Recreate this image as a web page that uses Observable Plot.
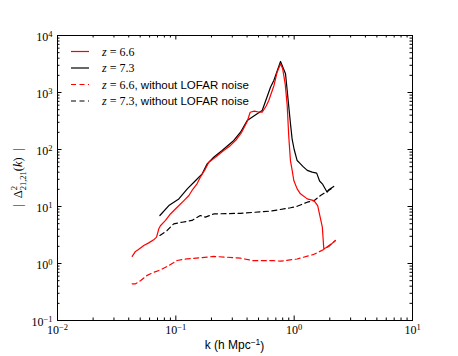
<!DOCTYPE html>
<html><head><meta charset="utf-8">
<script src="https://cdn.jsdelivr.net/npm/d3@7"></script>
<script src="https://cdn.jsdelivr.net/npm/@observablehq/plot@0.6"></script>
<style>body{margin:0;background:#fff} #chart{width:458px;height:356px}</style>
</head><body><div id="chart"></div>
<script>
// z = 6.6 with LOFAR noise
const k66 = [0.0428,0.0456,0.048,0.0536,0.059,0.065,0.0687,0.0718,0.0741,0.0818,0.090,0.1026,0.117,0.129,0.137,0.151,0.161,0.178,0.19,0.216,0.254,0.29,0.321,0.36,0.401,0.425,0.46,0.50,0.537,0.58,0.61,0.673,0.718,0.767,0.80,0.84,0.873,0.90,0.93,0.962,0.993,1.06,1.13,1.29,1.47,1.58,1.73,1.78,1.96,2.23];
const d66 = [1.33,1.63,1.74,2.07,2.3,2.6,2.9,4.07,4.6,5.7,7.4,9.7,12.7,15.6,19.1,25,32.7,45.8,60,73,96,118,145,200,310,450,470,455,451,580,725,1300,2270,3200,2600,1400,600,170,64,43,28.6,20.4,16.7,13.6,12.7,10.4,4.34,1.81,1.99,2.54];
// z = 7.3 with LOFAR noise
const k73 = [0.0733,0.0873,0.106,0.125,0.147,0.167,0.184,0.209,0.246,0.309,0.352,0.401,0.487,0.537,0.631,0.673,0.767,0.845,0.873,0.931,0.962,1.0,1.06,1.13,1.19,1.29,1.42,1.55,1.64,1.73,1.90,1.96,2.16];
const d73 = [6.95,10.4,13.6,20.4,28.6,37.4,56,73,96,144,201,323,423,483,1240,1620,3500,2130,1085,282,150,100,64,56,50,43,40,38.5,28,25,17.8,19.6,22.5];
// z = 6.6 without LOFAR noise
const k66n = [0.0428,0.0456,0.0502,0.0573,0.065,0.074,0.0873,0.1026,0.125,0.161,0.209,0.27,0.352,0.45,0.673,0.767,1.06,1.47,1.78,2.23];
const d66n = [0.44,0.44,0.50,0.62,0.70,0.77,0.92,1.13,1.21,1.26,1.33,1.29,1.24,1.12,1.12,1.10,1.2,1.45,1.76,2.5];
// z = 7.3 without LOFAR noise
const k73n = [0.0733,0.0845,0.096,0.113,0.137,0.161,0.178,0.209,0.352,0.631,0.931,1.06,1.29,1.47,1.67,2.16];
const d73n = [3.1,3.8,4.97,5.3,5.7,6.95,6.5,7.4,7.6,8.3,9.5,10.1,11.9,12.6,15.6,21.8];

const xMajor = [0.01,0.1,1,10];
const yMajor = [0.1,1,10,100,1000,10000];
const minorMult = [2,3,4,5,6,7,8,9];
const xMinor = xMajor.slice(0,-1).flatMap(p => minorMult.map(m => m*p));
const yMinor = yMajor.slice(0,-1).flatMap(p => minorMult.map(m => m*p));

const legendLabels = ["6.6","7.3","6.6","7.3"];
const legendSuffix = ["","",", without LOFAR noise",", without LOFAR noise"];
const legendColors = ["#ff0000","#000000","#ff0000","#000000"];
const legendDash = [null,null,"5,3.5","5,3.5"];

const W=458,H=356,mL=57,mR=46,mT=35,mB=36;
const iw=W-mL-mR, ih=H-mT-mB;
const series=(ks,vs)=>ks.map((k,i)=>({k,v:vs[i]}));
const fmt = d => "10^" + String(Math.round(Math.log10(d))).replace("-","\u2212");

const chart = Plot.plot({
  width:W, height:H, marginLeft:mL, marginRight:mR, marginTop:mT, marginBottom:mB,
  style:{fontFamily:"'Liberation Serif', serif", fontSize:"12px", background:"white", color:"black"},
  x:{type:"log", domain:[0.01,10], label:null},
  y:{type:"log", domain:[0.1,1e4], label:null},
  marks:[
    Plot.line(series(k73n,d73n),{x:"k",y:"v",stroke:"#000",strokeWidth:1.2,strokeDasharray:"5,3.5"}),
    Plot.line(series(k66n,d66n),{x:"k",y:"v",stroke:"#ff0000",strokeWidth:1.2,strokeDasharray:"5,3.5"}),
    Plot.line(series(k73,d73),{x:"k",y:"v",stroke:"#000",strokeWidth:1.2}),
    Plot.line(series(k66,d66),{x:"k",y:"v",stroke:"#ff0000",strokeWidth:1.2}),
    Plot.tickX(xMajor,{x:d=>d,insetTop:ih-4.5,stroke:"#000"}),
    Plot.tickX(xMajor,{x:d=>d,insetBottom:ih-4.5,stroke:"#000"}),
    Plot.tickX(xMinor,{x:d=>d,insetTop:ih-2.5,stroke:"#000"}),
    Plot.tickX(xMinor,{x:d=>d,insetBottom:ih-2.5,stroke:"#000"}),
    Plot.tickY(yMajor,{y:d=>d,insetRight:iw-4.5,stroke:"#000"}),
    Plot.tickY(yMajor,{y:d=>d,insetLeft:iw-4.5,stroke:"#000"}),
    Plot.tickY(yMinor,{y:d=>d,insetRight:iw-2.5,stroke:"#000"}),
    Plot.tickY(yMinor,{y:d=>d,insetLeft:iw-2.5,stroke:"#000"}),
    Plot.frame({stroke:"#000",strokeWidth:1}),
    Plot.axisX(xMajor,{tickSize:0,tickPadding:5,tickFormat:fmt,label:null,fontSize:12}),
    Plot.axisY(yMajor,{tickSize:0,tickPadding:5,tickFormat:fmt,label:null,fontSize:12})
  ]
});
document.getElementById("chart").appendChild(chart);
const svg = d3.select(chart);

// superscripts in tick labels
svg.selectAll('g[aria-label="x-axis tick label"] text, g[aria-label="y-axis tick label"] text').each(function(){
  const s = this.textContent;
  if (!s.includes("^")) return;
  const [base, ex] = s.split("^");
  this.textContent = "";
  const t = d3.select(this);
  t.append("tspan").text(base);
  t.append("tspan").attr("dy","-0.42em").attr("font-size","8.5px").text(ex);
});
svg.selectAll('g[aria-label="y-axis tick label"] text').attr("dy","0.1em");

// legend
const lg = svg.append("g").attr("class","legend").attr("text-anchor","start");
legendLabels.forEach((lab,i)=>{
  const y = 51.5 + i*16.5;
  lg.append("line").attr("x1",71).attr("x2",89).attr("y1",y).attr("y2",y)
    .attr("stroke",legendColors[i]).attr("stroke-width",1.2)
    .attr("stroke-dasharray",legendDash[i]);
  const t = lg.append("text").attr("x",102).attr("y",y+4).attr("font-size","12px")
    .attr("text-anchor","start")
    .attr("font-family","'Liberation Serif', serif").attr("fill","#000");
  t.append("tspan").attr("font-style","italic").text("z");
  t.append("tspan").attr("xml:space","preserve").text(" = " + lab);
  if (legendSuffix[i]) t.append("tspan").attr("font-size","11.5px").attr("font-family","'Liberation Sans', Arial, sans-serif").text(legendSuffix[i]);
});

// x label
const xl = svg.append("text").attr("x", mL+iw/2).attr("y",348.5).attr("text-anchor","middle")
  .attr("font-family","'Liberation Sans', Arial, sans-serif").attr("font-size","12px").attr("fill","#000");
xl.append("tspan").text("k (h Mpc");
xl.append("tspan").attr("dy","-0.42em").attr("font-size","8.5px").text("\u22121");
xl.append("tspan").attr("dy","0.42em").text(")");

// y label
const yl = svg.append("text").attr("transform",`translate(22,${mT+ih/2}) rotate(-90)`).attr("text-anchor","middle")
  .attr("font-family","'Liberation Serif', serif").attr("font-size","12.5px").attr("fill","#000");
yl.append("tspan").text("|  \u0394").attr("xml:space","preserve");
yl.append("tspan").attr("dy","-5").attr("font-size","8.5px").text("2");
yl.append("tspan").attr("dx","-4.3").attr("dy","8.5").attr("font-size","8.5px").text("21,21");
yl.append("tspan").attr("dy","-3.5").text("(");
yl.append("tspan").attr("font-style","italic").text("k");
yl.append("tspan").attr("xml:space","preserve").text(")  |");
</script></body></html>
